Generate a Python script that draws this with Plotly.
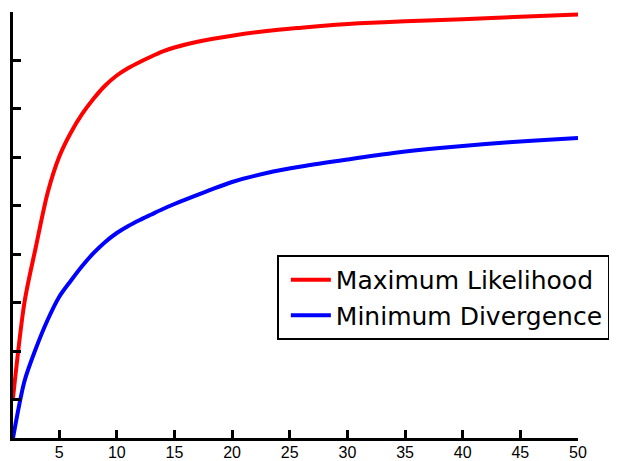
import plotly.graph_objects as go

# Data
x_red = [1, 2, 3, 4, 5, 6, 7, 8, 9, 10, 11, 12, 13, 14, 15, 17, 20, 23, 26, 29, 31, 35, 40, 45, 50]
y_red = [0.2041, 0.4021, 0.5175, 0.6268, 0.7010, 0.7505, 0.7897, 0.8216, 0.8485, 0.8691,
         0.8845, 0.8969, 0.9082, 0.9186, 0.9268, 0.9388, 0.9511, 0.9608, 0.9676, 0.9736,
         0.9767, 0.9808, 0.9852, 0.9901, 0.9951]

x_blue = [1, 2, 3, 4, 5, 6, 7, 8, 9, 10, 11, 12, 13, 14, 15, 16, 17, 18, 20, 23, 26, 30,
          34, 38, 42, 46, 50]
y_blue = [0.1216, 0.2392, 0.3072, 0.3649, 0.4124, 0.4454, 0.4763, 0.5031, 0.5258, 0.5443,
          0.5588, 0.5711, 0.5825, 0.5938, 0.6041, 0.6138, 0.6231, 0.6320, 0.6495, 0.6680,
          0.6814, 0.6959, 0.7093, 0.7196, 0.7278, 0.7344, 0.7402]

x_ticks = [5, 10, 15, 20, 25, 30, 35, 40, 45, 50]
y_ticks = [0.2, 0.3, 0.4, 0.5, 0.6, 0.7, 0.8, 0.9, 1.0]

fig = go.Figure()
fig.add_trace(go.Scatter(x=x_red, y=y_red, mode="lines", name="Maximum Likelihood",
                         line=dict(color="#ff0000", width=4, shape="spline", smoothing=0.8),
                         legendgroup="a"))
fig.add_trace(go.Scatter(x=x_blue, y=y_blue, mode="lines", name="Minimum Divergence",
                         line=dict(color="#0000ff", width=4, shape="spline", smoothing=0.8),
                         legendgroup="b"))

fig.update_layout(
    width=609, height=453,
    margin=dict(l=5, r=39, t=4, b=23),
    paper_bgcolor="white", plot_bgcolor="white",
    font=dict(family="DejaVu Sans", color="black"),
    xaxis=dict(range=[1, 50], tickvals=x_ticks, ticktext=[str(v) for v in x_ticks],
               ticks="inside", ticklen=8, tickwidth=2.5, tickcolor="black",
               showline=True, linecolor="black", linewidth=3, showgrid=False, zeroline=False,
               automargin=False, ticklabelstandoff=-2,
               tickfont=dict(family="Liberation Sans, Arial", size=16, color="black")),
    yaxis=dict(range=[0.1216, 1.0], tickvals=y_ticks, showticklabels=False,
               ticks="inside", ticklen=8, tickwidth=2.5, tickcolor="black",
               showline=True, linecolor="black", linewidth=3, showgrid=False, zeroline=False,
               automargin=False),
    legend=dict(x=0.467, y=0.4296, xanchor="left", yanchor="top",
                bordercolor="black", borderwidth=2, bgcolor="white",
                font=dict(family="DejaVu Sans", size=25, color="black"),
                tracegroupgap=0, itemwidth=40, indentation=7,
                entrywidth=294, entrywidthmode="pixels"),
    showlegend=True,
)

fig.write_html("out.html")
